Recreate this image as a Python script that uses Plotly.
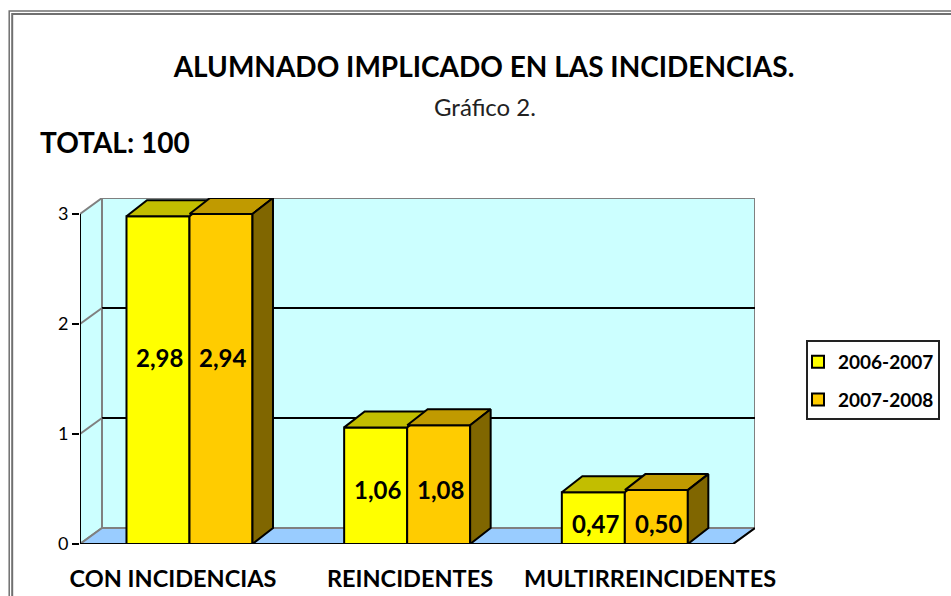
import plotly.graph_objects as go

categories = ["CON INCIDENCIAS", "REINCIDENTES", "MULTIRREINCIDENTES"]
series_names = ["2006-2007", "2007-2008"]
values_2006 = [2.98, 1.06, 0.47]
values_2007 = [3.00, 1.08, 0.49]
labels_2006 = ["2,98", "1,06", "0,47"]
labels_2007 = ["2,94", "1,08", "0,50"]
label_heights = [1.70, 0.50, 0.19]
y_ticks = [0, 1, 2, 3]

W, H = 951, 596
L, R, T, B = 80, 755, 198, 544
PX_X, PX_Y = 217.67, 110.0
DX, DY = 22 / PX_X, 16 / PX_Y
BAR_DX = 20.5 / PX_X
BAR_W = 63 / PX_X
centers = [i + 0.503 for i in range(len(categories))]
FONT = "Lato, 'Open Sans', sans-serif"

fill_front = ["#FFFF00", "#FFCC00"]
fill_top = ["#C2BE00", "#C09A00"]
fill_side = "#806600"


def paper_x(p):
    return (p - L) / (R - L)


def paper_y(p):
    return (B - p) / (B - T)


shapes = []


def poly(xs, ys, fill, color, width=2):
    path = "M" + " L".join(f"{a},{b}" for a, b in zip(xs, ys)) + " Z"
    shapes.append(dict(type="path", path=path, xref="x", yref="y", layer="below",
                       fillcolor=fill, line=dict(color=color, width=width)))


def seg(x0, y0, x1, y1, color, width=2):
    shapes.append(dict(type="line", x0=x0, y0=y0, x1=x1, y1=y1, xref="x", yref="y",
                       layer="below", line=dict(color=color, width=width)))


xmax = (R - L) / PX_X
ymax = (B - T) / PX_Y
xfront = xmax - DX
top = y_ticks[-1]

# walls and floor
poly([DX, xmax, xmax, DX], [DY, DY, top + DY, top + DY], "#CCFFFF", "#808080")
poly([0, DX, DX, 0], [0, DY, top + DY, top], "#CCFFFF", "#808080")
poly([0, xfront, xmax, DX], [0, 0, DY, DY], "#99CCFF", "#808080")
for v in y_ticks[1:-1]:
    seg(DX, v + DY, xmax, v + DY, "#000000")
    seg(0, v, DX, v + DY, "#808080")
seg(0, 0, xfront, 0, "#000000")
seg(xfront, 0, xmax, DY, "#000000")
seg(0, 0, 0, top, "#000000")

fig = go.Figure()
for name, vals, col in zip(series_names, [values_2006, values_2007], fill_front):
    fig.add_trace(go.Bar(name=f"<b>{name}</b>", x=centers, y=vals, legendgroup=name,
                         marker=dict(color=col, line=dict(color="#000000", width=2)),
                         hoverinfo="skip"))

# oblique faces derived from the bar values
for s, vals in enumerate([values_2006, values_2007]):
    for c, v in zip(centers, vals):
        x0 = c - BAR_W if s == 0 else c
        x1 = x0 + BAR_W
        fig.add_trace(go.Scatter(
            x=[x0, x1, x1 + BAR_DX, x0 + BAR_DX, x0], y=[v, v, v + DY, v + DY, v],
            mode="lines", fill="toself", fillcolor=fill_top[s],
            line=dict(color="#000000", width=2), showlegend=False,
            hoverinfo="skip", cliponaxis=False))
        if s == 1:
            fig.add_trace(go.Scatter(
                x=[x1, x1 + BAR_DX, x1 + BAR_DX, x1, x1], y=[0, DY, v + DY, v, 0],
                mode="lines", fill="toself", fillcolor=fill_side,
                line=dict(color="#000000", width=2), showlegend=False,
                hoverinfo="skip", cliponaxis=False))

annotations = []
for c, h, a, b in zip(centers, label_heights, labels_2006, labels_2007):
    for text, x in ((a, c - BAR_W / 2), (b, c + BAR_W / 2)):
        annotations.append(dict(x=x, y=h, xref="x", yref="y", text=f"<b>{text}</b>", xshift=2,
                                showarrow=False, font=dict(family=FONT, size=24, color="#000")))

annotations.append(dict(x=paper_x(485), y=paper_y(106), xref="paper", yref="paper",
                        xanchor="center", yanchor="middle", text="Gráfico 2.", showarrow=False,
                        font=dict(family=FONT, size=24, color="#222")))
annotations.append(dict(x=paper_x(38), y=paper_y(142), xref="paper", yref="paper",
                        xanchor="left", yanchor="middle", text="<b>TOTAL: 100</b>", showarrow=False,
                        font=dict(family=FONT, size=28, color="#000")))

# page frame, open on the right and at the bottom
for pos, width in ((9.2, 1.5), (12.2, 2)):
    shapes.append(dict(type="path", xref="paper", yref="paper", layer="above",
                       path=f"M{paper_x(pos)},{paper_y(H + 5)} L{paper_x(pos)},{paper_y(pos + 1.7)} "
                            f"L{paper_x(W + 5)},{paper_y(pos + 1.7)}",
                       line=dict(color="#707070", width=width)))

# legend frame
shapes.append(dict(type="rect", xref="paper", yref="paper", layer="above",
                   x0=paper_x(807), x1=paper_x(939), y0=paper_y(341), y1=paper_y(419),
                   line=dict(color="#222222", width=2)))

fig.update_layout(
    width=W, height=H, autosize=False,
    margin=dict(l=L, r=W - R, t=T, b=H - B, autoexpand=False),
    paper_bgcolor="#FFFFFF", plot_bgcolor="rgba(0,0,0,0)",
    barmode="group", bargap=1 - 2 * BAR_W, bargroupgap=0,
    shapes=shapes, annotations=annotations,
    title=dict(text="<b>ALUMNADO IMPLICADO EN LAS INCIDENCIAS.</b>",
               x=484 / W, y=1 - 67 / H, xanchor="center", yanchor="middle",
               font=dict(family=FONT, size=28, color="#000")),
    legend=dict(x=paper_x(798), y=paper_y(343), xanchor="left", yanchor="top",
                bgcolor="rgba(0,0,0,0)", borderwidth=0, tracegroupgap=10,
                font=dict(family=FONT, size=19, color="#000"), itemwidth=30,
                itemclick=False, itemdoubleclick=False),
    xaxis=dict(range=[0, xmax], showgrid=False, zeroline=False, showline=False, ticks="",
               tickmode="array", tickvals=[(173 - L) / PX_X, (410 - L) / PX_X, (650 - L) / PX_X],
               ticktext=[f"<b>{c}</b>" for c in categories], ticklabelstandoff=18,
               tickangle=0, tickfont=dict(family=FONT, size=23.5, color="#000")),
    yaxis=dict(range=[0, ymax], showgrid=False, zeroline=False, showline=False,
               tickmode="array", tickvals=y_ticks, ticktext=[str(v) for v in y_ticks],
               ticks="outside", ticklen=7, tickwidth=2, tickcolor="#000",
               tickfont=dict(family=FONT, size=18, color="#000")),
)

fig.write_html("out.html", config={"displayModeBar": False},
               post_script="document.body.style.margin='0';")
